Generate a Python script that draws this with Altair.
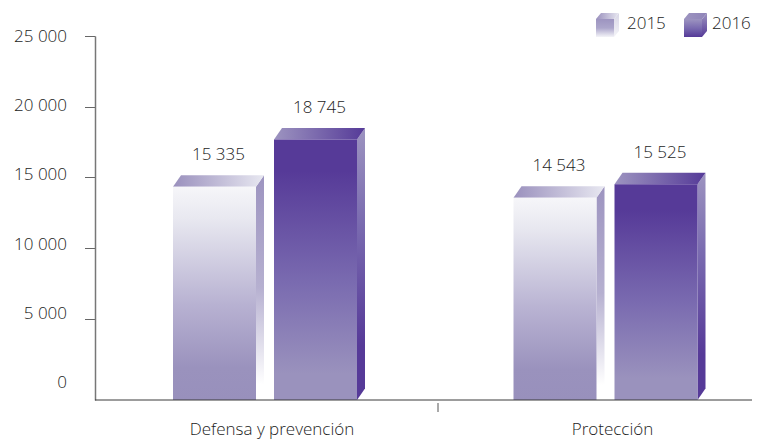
import altair as alt
import pandas as pd

categories = ["Defensa y prevención", "Protección"]
years = ["2015", "2016"]
values_2015 = [15335, 14543]
values_2016 = [18745, 15525]
tick_values = [0, 5000, 10000, 15000, 20000, 25000]

FONT = "Open Sans"
WEIGHT = 300
SIZE = 17
TEXT = "#1c1c1c"
W, H = 657, 364
K = 0.0139                 # px per unit of the bar scale
BAR_MAX = H / K
GROUP = 340.5              # px per category
X0 = -170 / GROUP          # left edge of plot in category units
X1 = X0 + W / GROUP
BW = 83 / GROUP            # front face width
GAP = 18 / GROUP           # from a front face to the next front face
DX = 8 / GROUP             # depth
DY = 11.5 / K

xs = alt.Scale(domain=[X0, X1], nice=False, zero=False)
ys = alt.Scale(domain=[0, BAR_MAX], nice=False, zero=False)
X = alt.X("x:Q", scale=xs, axis=None)
X2 = alt.X2("x2:Q")
Y = alt.Y("y:Q", scale=ys, axis=None)
Y2 = alt.Y2("y2:Q")


def grad(stops, horizontal=False):
    return {
        "gradient": "linear",
        "x1": 0, "y1": 0,
        "x2": 1 if horizontal else 0,
        "y2": 0 if horizontal else 1,
        "stops": [{"offset": o, "color": c} for o, c in stops],
    }


FRONT = {
    "2015": grad([(0, "#f6f6f9"), (0.15, "#e8e8f0"), (0.55, "#b8b2d2"), (0.85, "#9a92bd"), (1, "#9890bc")]),
    "2016": grad([(0, "#563a98"), (0.12, "#563a98"), (0.55, "#7a6bb0"), (0.9, "#9a92bd"), (1, "#9a92bd")]),
}
SIDE = {
    "2015": grad([(0, "#9d94c0"), (0.5, "#b6b0d0"), (0.93, "#ffffff"), (1, "#ffffff")]),
    "2016": grad([(0, "#9d94c0"), (0.35, "#7a6bb0"), (0.8, "#563a98"), (1, "#563a98")]),
}
TOP = {
    "2015": grad([(0, "#9a90bd"), (1, "#e8e8f1")], True),
    "2016": grad([(0, "#9d94c0"), (1, "#553a98")], True),
}
LEG_FRONT = {
    "2015": grad([(0, "#9d94c0"), (0.5, "#aca6cb"), (1, "#f4f4f8")]),
    "2016": grad([(0, "#9d94c0"), (0.5, "#7a6bb0"), (1, "#553a98")]),
}
LEG_SIDE = {
    "2015": grad([(0, "#d8d6e6"), (1, "#f4f4f8")]),
    "2016": grad([(0, "#9d94c0"), (1, "#553a98")]),
}
LEG_TOP = {
    "2015": grad([(0, "#9a90bd"), (1, "#e8e8f1")], True),
    "2016": grad([(0, "#9d94c0"), (1, "#8f84b8")], True),
}


def cube(left, width, dx, base, height, dy, front, side, top):
    right = left + width
    ftop = base + height
    layers = []
    # side face
    layers.append(
        alt.Chart(pd.DataFrame({"x": [right, right + dx], "y": [ftop, ftop + dy], "y2": [base, base + dy]}))
        .mark_area(fill=side, clip=False)
        .encode(x=X, y=Y, y2=Y2)
    )
    # top face
    layers.append(
        alt.Chart(pd.DataFrame({"y": [ftop, ftop + dy], "x": [left, left + dx], "x2": [right, right + dx]}))
        .mark_area(fill=top, orient="horizontal", clip=False)
        .encode(x=X, x2=X2, y=Y)
    )
    # front face
    layers.append(
        alt.Chart(pd.DataFrame({"x": [left], "x2": [right], "y": [ftop], "y2": [base]}))
        .mark_rect(fill=front, clip=False)
        .encode(x=X, x2=X2, y=Y, y2=Y2)
    )
    return layers


def text_mark(**kw):
    return dict(font=FONT, fontSize=SIZE, fontWeight=WEIGHT, color=TEXT, baseline="middle", **kw)


layers = []
rows = []
for i, cat in enumerate(categories):
    for yr, series, sign in (("2015", values_2015, -1), ("2016", values_2016, 1)):
        v = series[i]
        left = i - BW - GAP / 2 if sign < 0 else i + GAP / 2
        layers += cube(left, BW, DX, 0, v, DY, FRONT[yr], SIDE[yr], TOP[yr])
        rows.append({"x": left + (BW + DX) / 2, "y": v + DY, "t": f"{v:,}".replace(",", " ")})

# y axis: ticks and line
ty = alt.Scale(domain=[-735, 25000], nice=False, zero=False)
layers.append(
    alt.Chart(pd.DataFrame({"v": tick_values[1:]}))
    .mark_rule(opacity=0)
    .encode(
        x=alt.value(0),
        y=alt.Y(
            "v:Q",
            scale=ty,
            axis=alt.Axis(
                values=tick_values[1:], labels=False, title=None, grid=False,
                tickSize=10.5, tickColor="#666666", tickWidth=1,
                domainColor="#777777", domainWidth=1.5,
            ),
        ),
    )
)

# y labels
ly = alt.Scale(domain=[0, 25000], range=[346, 0], nice=False, zero=False)
layers.append(
    alt.Chart(pd.DataFrame({"v": tick_values, "t": [f"{v:,}".replace(",", " ") for v in tick_values]}))
    .mark_text(align="right", dx=-28, dy=1, **text_mark())
    .encode(x=alt.value(0), y=alt.Y("v:Q", scale=ly, axis=None), text="t:N")
)

# baseline
layers.append(
    alt.Chart(pd.DataFrame({"x": [X0], "x2": [X1], "y": [0]}))
    .mark_rule(color="#3a3a3a", strokeWidth=1)
    .encode(x=X, x2=X2, y=Y)
)
# separator tick
layers.append(
    alt.Chart(pd.DataFrame({"x": [(438 - 265) / GROUP], "y": [-3 / K], "y2": [-12 / K]}))
    .mark_rule(color="#555555", strokeWidth=1)
    .encode(x=X, y=Y, y2=Y2)
)
# value labels
layers.append(
    alt.Chart(pd.DataFrame(rows))
    .mark_text(align="center", dy=-20, **text_mark())
    .encode(x=X, y=Y, text="t:N")
)
# category labels
layers.append(
    alt.Chart(pd.DataFrame({"x": [i + 7 / GROUP for i in range(2)], "y": [0, 0], "t": categories}))
    .mark_text(align="center", dy=30, **text_mark())
    .encode(x=X, y=Y, text="t:N")
)

# legend, built the same way as the bars
leg_left = {"2015": (596 - 265) / GROUP, "2016": (684 - 265) / GROUP}
leg_text = {"2015": (627 - 265) / GROUP, "2016": (712 - 265) / GROUP}
leg_base = (400 - 37) / K
for yr in years:
    layers += cube(leg_left[yr], 18 / GROUP, 5 / GROUP, leg_base, 18 / K, 6 / K,
                   LEG_FRONT[yr], LEG_SIDE[yr], LEG_TOP[yr])
layers.append(
    alt.Chart(pd.DataFrame({"x": [leg_text[y] for y in years], "y": [(400 - 24) / K] * 2, "t": years}))
    .mark_text(align="left", **text_mark())
    .encode(x=X, y=Y, text="t:N")
)

chart = (
    alt.layer(*layers)
    .resolve_scale(y="independent")
    .properties(
        width=W, height=H,
        padding={"left": 87, "top": 28, "right": 0, "bottom": 40},
        autosize=alt.AutoSizeParams(type="none"),
    )
    .configure_view(stroke=None)
)
chart.save("out.html", embed_options={"renderer": "svg", "actions": False})
